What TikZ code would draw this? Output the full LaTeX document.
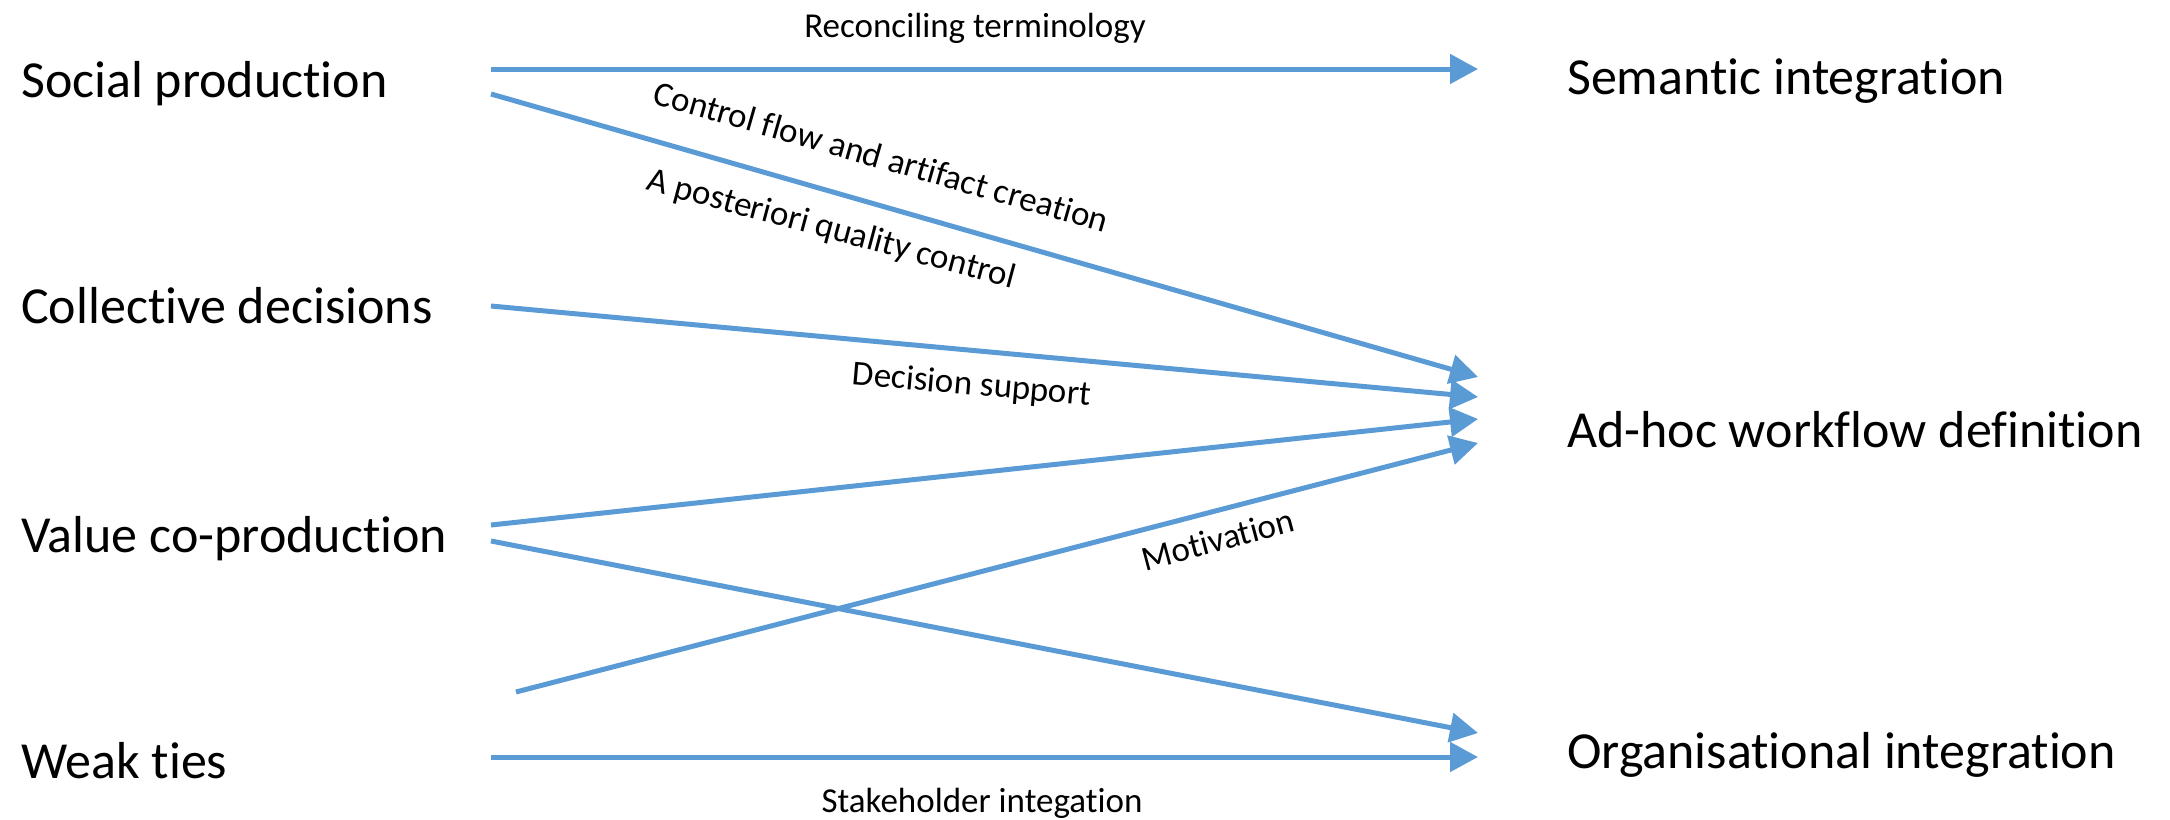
\documentclass[tikz,border=0pt]{standalone}
\usepackage{fontspec}
\setmainfont{Carlito}[Ligatures={NoCommon}]
\usetikzlibrary{arrows.meta}
\definecolor{linkblue}{RGB}{91,155,213}
\tikzset{
  bigtext/.style={anchor=base west, inner sep=0pt, font=\fontsize{52}{62}\selectfont},
  smalltext/.style={anchor=base, inner sep=0pt, font=\fontsize{35}{42}\selectfont},
  link/.style={draw=linkblue, line width=5pt, -{Triangle[length=28pt,width=29pt]}},
}
\begin{document}
\begin{tikzpicture}[x=1pt,y=-1pt]
\useasboundingbox (0,0) rectangle (2170,819);
% left labels
\node[bigtext] (sp) at (21,97) {Social production};
\node[bigtext] (cd) at (21,323) {Collective decisions};
\node[bigtext] (vc) at (21,552) {Value co-production};
\node[bigtext] (wt) at (21,778) {Weak ties};
% right labels
\node[bigtext] (si) at (1567,94) {Semantic integration};
\node[bigtext] (ah) at (1567,447) {Ad-hoc workflow definition};
\node[bigtext] (oi) at (1567,768) {Organisational integration};
% connector ends
\coordinate (spA) at (491,69);
\coordinate (spB) at (491,94);
\coordinate (cdA) at (491,306);
\coordinate (vcA) at (491,525);
\coordinate (vcB) at (491,541);
\coordinate (wtM) at (516,692);
\coordinate (wtA) at (491,757);
\coordinate (siA) at (1478,69);
\coordinate (ahA) at (1478,377);
\coordinate (ahB) at (1478,397);
\coordinate (ahC) at (1478,419);
\coordinate (ahD) at (1478,443);
\coordinate (oiA) at (1478,733);
\coordinate (oiB) at (1478,757);
% connectors
\draw[link] (spA) -- (siA);
\draw[link] (spB) -- (ahA);
\draw[link] (cdA) -- (ahB);
\draw[link] (vcA) -- (ahC);
\draw[link] (wtM) -- (ahD);
\draw[link] (vcB) -- (oiA);
\draw[link] (wtA) -- (oiB);
% connector labels
\node[smalltext] (l1) at (975,37) {Reconciling terminology};
\node[smalltext, rotate=-16] (l2) at (878,168) {Control flow and artifact creation};
\node[smalltext, rotate=-15] (l3) at (829,239) {A posteriori quality control};
\node[smalltext, rotate=-5] (l4) at (971,395) {Decision support};
\node[smalltext, rotate=15] (l5) at (1221,551) {Motivation};
\node[smalltext] (l6) at (982,812) {Stakeholder integation};
\end{tikzpicture}
\end{document}
